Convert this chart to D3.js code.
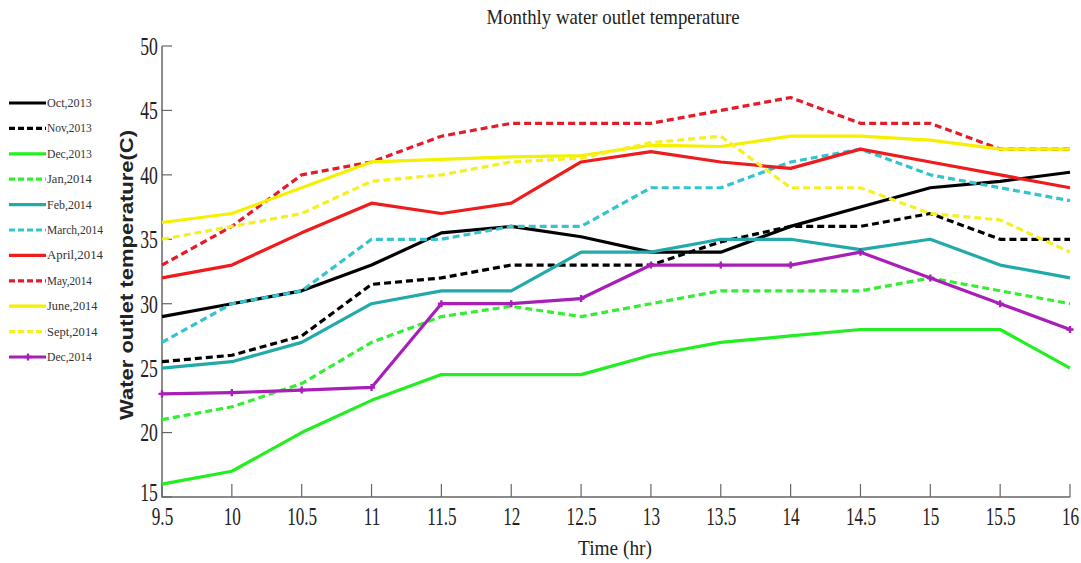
<!DOCTYPE html>
<html><head><meta charset="utf-8">
<script src="https://cdn.jsdelivr.net/npm/d3@7"></script>
<style>body{margin:0;background:#fff}svg{display:block}</style>
</head><body>
<svg id="c" width="1081" height="563"></svg>
<script>
const times = [9.5,10,10.5,11,11.5,12,12.5,13,13.5,14,14.5,15,15.5,16];
const xTicks = [9.5,10,10.5,11,11.5,12,12.5,13,13.5,14,14.5,15,15.5,16];
const yTicks = [15,20,25,30,35,40,45,50];
const seriesNames = ["Oct,2013","Nov,2013","Dec,2013","Jan,2014","Feb,2014","March,2014","April,2014","May,2014","June,2014","Sept,2014","Dec,2014"];
const oct2013  = [29,30,31,33,35.5,36,35.2,34,34,36,37.5,39,39.5,40.2];
const nov2013  = [25.5,26,27.5,31.5,32,33,33,33,34.8,36,36,37,35,35];
const dec2013  = [16,17,20,22.5,24.5,24.5,24.5,26,27,27.5,28,28,28,25];
const jan2014  = [21,22,23.8,27,29,29.8,29,30,31,31,31,32,31,30];
const feb2014  = [25,25.5,27,30,31,31,34,34,35,35,34.2,35,33,32];
const mar2014  = [27,30,31,35,35,36,36,39,39,41,42,40,39,38];
const apr2014  = [32,33,35.5,37.8,37,37.8,41,41.8,41,40.5,42,41,40,39];
const may2014  = [33,36,40,41,43,44,44,44,45,46,44,44,42,42];
const jun2014  = [36.3,37,39,41,41.2,41.4,41.5,42.3,42.2,43,43,42.7,42,42];
const sep2014  = [35,36,37,39.5,40,41,41.3,42.5,43,39,39,37,36.5,34];
const dec2014  = [23,23.1,23.3,23.5,30,30,30.4,33,33,33,34,32,30,28];
const seriesValues = [oct2013,nov2013,dec2013,jan2014,feb2014,mar2014,apr2014,may2014,jun2014,sep2014,dec2014];
const seriesColors = ["#000000","#000000","#22ee22","#33ee33","#22aaaa","#33c4d0","#ee1c1c","#e41c2a","#f5f000","#f5f020","#a81fb8"];
const seriesDashed = [false,true,false,true,false,true,false,true,false,true,false];

const svg = d3.select("#c");
const x = d3.scaleLinear().domain([9.5,16]).range([162,1070]);
const y = d3.scaleLinear().domain([15,50]).range([497,46]);

// axes
const xAxis = d3.axisBottom(x).tickValues(xTicks).tickSize(0).tickPadding(10).tickFormat(d=>String(d));
const gx = svg.append("g").attr("transform","translate(0,497)").call(xAxis);
gx.select(".domain").remove();
gx.selectAll("text").attr("font-family","Liberation Serif").attr("font-size",26).attr("fill","#222")
  .attr("transform","scale(0.66,1)");
const yAxis = d3.axisLeft(y).tickValues(yTicks).tickSize(0).tickPadding(6).tickFormat(d=>String(d));
const gy = svg.append("g").attr("transform","translate(162,0)").call(yAxis);
gy.select(".domain").remove();
gy.selectAll("text").attr("font-family","Liberation Serif").attr("font-size",26).attr("fill","#222")
  .attr("transform",d=>d===15?"translate(0,-5) scale(0.68,1)":"scale(0.68,1)");

// inward ticks
svg.append("g").selectAll("line").data(xTicks).join("line")
  .attr("x1",d=>x(d)).attr("x2",d=>x(d)).attr("y1",497).attr("y2",484)
  .attr("stroke","#666").attr("stroke-width",1.2);
svg.append("g").selectAll("line").data(yTicks).join("line")
  .attr("x1",162).attr("x2",172).attr("y1",d=>y(d)).attr("y2",d=>y(d))
  .attr("stroke","#666").attr("stroke-width",1.2);
svg.append("path").attr("d",`M${x(9.5)},${y(50)}V${y(15)}H${x(16)}`)
  .attr("fill","none").attr("stroke","#666").attr("stroke-width",1.5);

// lines
const line = d3.line().x((d,i)=>x(times[i])).y(d=>y(d));
seriesValues.forEach((vals,k)=>{
  svg.append("path").datum(vals).attr("d",line)
    .attr("fill","none").attr("stroke",seriesColors[k]).attr("stroke-width",3.2)
    .attr("stroke-linejoin","round")
    .attr("stroke-dasharray",seriesDashed[k]?"7,4":null);
});
// markers for Dec,2014
const sym = d3.symbol().type(d3.symbolCross).size(28);
svg.append("g").selectAll("path").data(dec2014).join("path")
  .attr("d",sym).attr("transform",(d,i)=>`translate(${x(times[i])},${y(d)})`)
  .attr("fill",seriesColors[10]);

// legend
const lg = svg.append("g");
seriesNames.forEach((n,k)=>{
  const yy = 103 + k*25.4;
  lg.append("line").attr("x1",9).attr("x2",46).attr("y1",yy).attr("y2",yy)
    .attr("stroke",seriesColors[k]).attr("stroke-width",3.2)
    .attr("stroke-dasharray",seriesDashed[k]?"6,3":null);
  if(k===10){
    lg.append("path").attr("d",sym).attr("transform",`translate(28,${yy})`).attr("fill",seriesColors[k]);
  }
  lg.append("text").attr("x",47).attr("y",yy+4).text(n)
    .attr("font-family","Liberation Serif").attr("font-size",12.5).attr("fill","#333")
    .attr("textLength",n.length*5.6).attr("lengthAdjust","spacingAndGlyphs");
});

// titles
svg.append("text").attr("x",613).attr("y",24).attr("text-anchor","middle")
  .attr("font-family","Liberation Serif").attr("font-size",21).attr("fill","#222")
  .attr("textLength",253).attr("lengthAdjust","spacingAndGlyphs")
  .text("Monthly water outlet temperature");
svg.append("text").attr("x",615).attr("y",555).attr("text-anchor","middle")
  .attr("font-family","Liberation Serif").attr("font-size",22).attr("fill","#222")
  .attr("textLength",74).attr("lengthAdjust","spacingAndGlyphs")
  .text("Time (hr)");
svg.append("text").attr("transform","translate(133,275) rotate(-90)").attr("text-anchor","middle")
  .attr("font-family","Liberation Sans").attr("font-weight","bold").attr("font-size",19).attr("fill","#222")
  .attr("textLength",290).attr("lengthAdjust","spacingAndGlyphs")
  .text("Water outlet temperature(C)");
</script>
</body></html>
